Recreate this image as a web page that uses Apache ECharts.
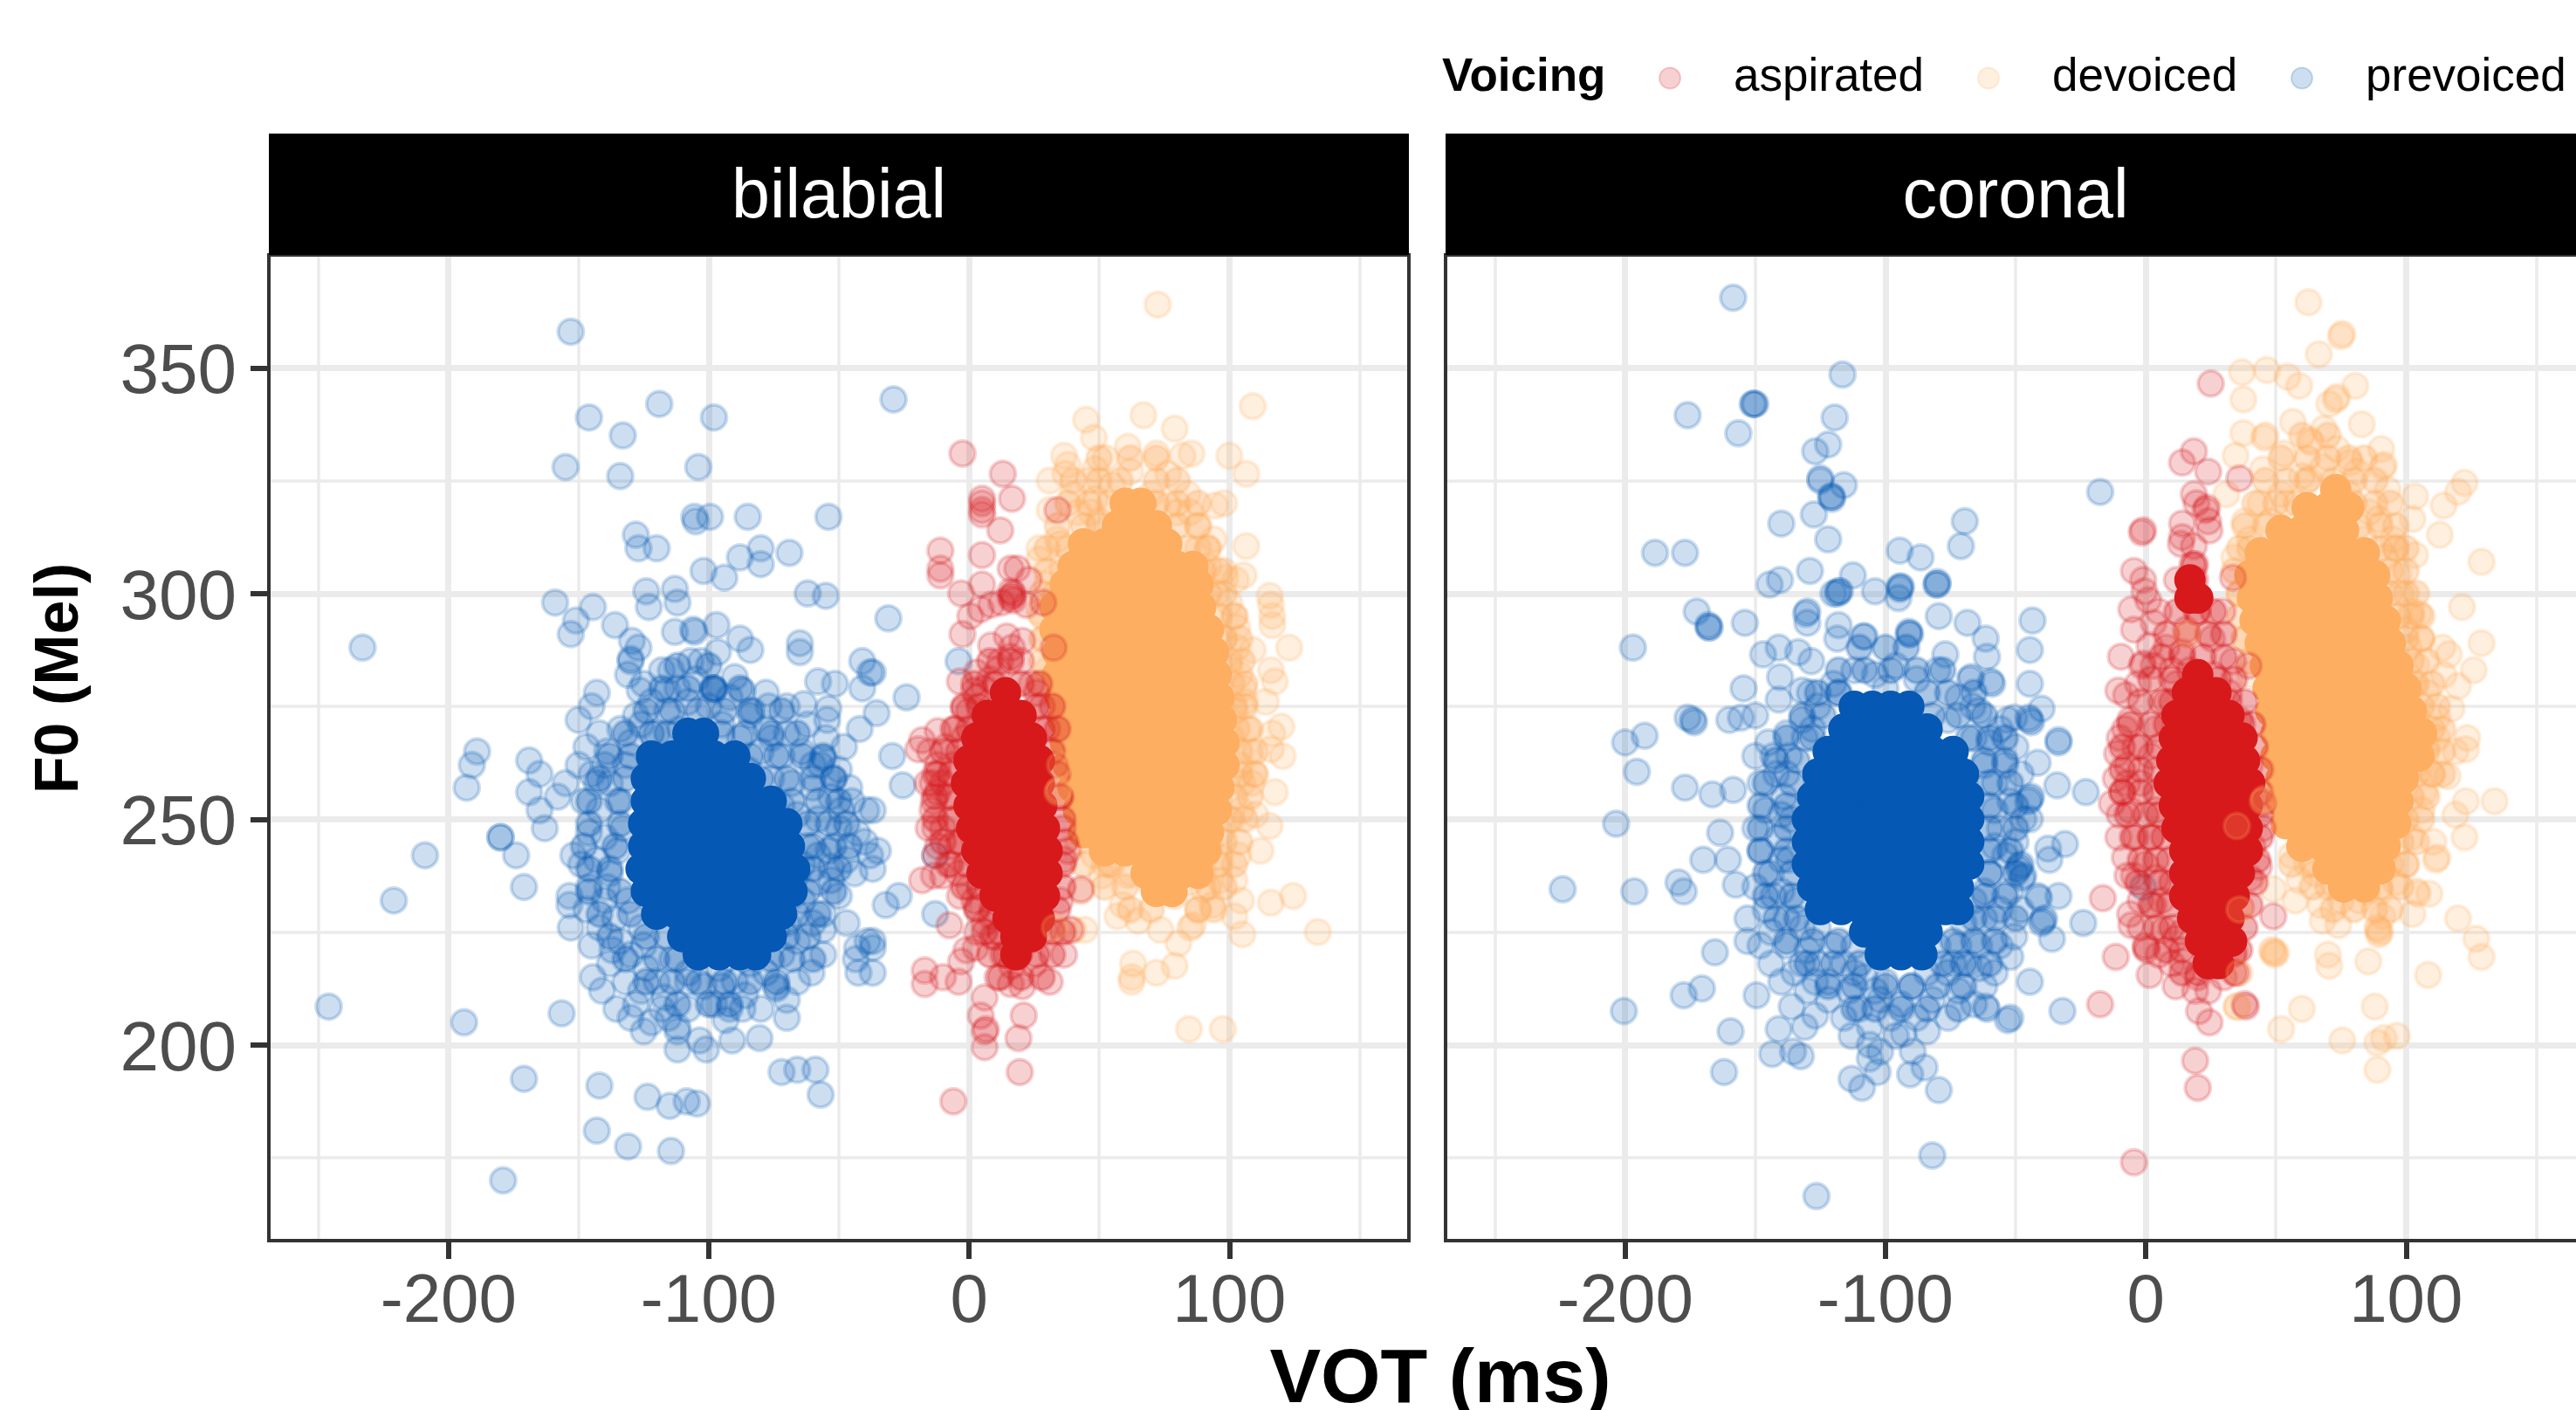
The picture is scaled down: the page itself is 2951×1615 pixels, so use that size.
<!DOCTYPE html>
<html><head><meta charset="utf-8">
<style>html,body{margin:0;padding:0;background:#fff}#c{width:2951px;height:1615px}</style>
<script src="https://cdn.jsdelivr.net/npm/echarts@6/dist/echarts.min.js"></script>
</head><body><div id="c"></div>
<script>
const panels=['bilabial','coronal'];
const voicings=['aspirated','devoiced','prevoiced'];
const xMajorTicks=[-200,-100,0,100];
const xMinorTicks=[-250,-150,-50,50,150];
const yMajorTicks=[200,250,300,350];
const yMinorTicks=[175,225,275,325];

// individually readable points: [VOT, F0]
const bilabialPrevoiced=[[-153,358],[-119,342],[-146,339],[-98,339],[-133,335],[-155,328],[-134,326],[-104,328],[-105.5,317],[-105,316],[-99.5,317],[-85,317],[-54,317],[-128,313],[-127,310],[-120,310],[-102,305],[-94,303.5],[-88,308],[-80,310],[-80,306.5],[-69,309],[-124,300.5],[-113,301],[-123,297],[-112,298],[-62,300],[-55,299.5],[-159,298],[-144.5,297],[-151,294],[-153,291],[-136,293],[-233,288],[-129.5,289.5],[-127,288],[-130,285.5],[-130,285],[-131,282],[-126.5,278.5],[-113,291.5],[-106,292],[-105.5,291.5],[-97,293],[-88,290],[-84,287.5],[-96.5,287],[-65,289],[-65,287],[-41,285],[-38,282.5],[-58,280.5],[-51.5,280],[-41,279],[-77,275],[-83,274],[-63.5,275.5],[-54,274.5],[-54.5,272],[-143,278],[-145,275],[-150,272],[-114.5,283],[-107,285],[-116,278.5],[-98,278.5],[-98,279],[-98.5,279],[-90,281.5],[-87,278.5],[-189,265],[-191,262],[-193,257],[-169,263],[-165,260],[-169,256],[-155,258],[-158,255],[-165,252],[-163,248],[-180,246],[-180,246],[-174,242],[-209,242],[-221,232],[-171,235],[-152,242],[-149,240],[-153.5,233],[-153.5,231],[-153,226],[-137,221],[-144.5,215],[-141,212],[-246,208.5],[-194,205],[-156.5,207],[-135.5,208],[-130,206],[-125,203],[-117,210.5],[-115.5,206],[-112,204],[-112,203],[-112,199],[-103.5,201],[-101,199],[-91,201],[-80.5,201.5],[-93.5,205.5],[-87,208],[-92,208],[-70,210],[-70,206],[-74,212.5],[-60.5,216],[-42.5,216],[-43.5,219],[-43,221.5],[-47,227],[-39,223],[-56,225.5],[-56,229],[-38,242],[-39.5,252],[-53,239.5],[-44,238],[-53,236.5],[-52,259],[-46,257],[-56,263.5],[-72,194],[-66,194.5],[-59,194.5],[-57,189],[-171,192.5],[-142,191],[-123.5,188.5],[-115,186.5],[-108.5,187.5],[-104.5,187],[-143,181],[-131,177.5],[-114.5,176.5],[-179,170],[-95,213],[-108,214],[-29,343],[-31,294.5],[-4,285],[-24,277],[-35.5,273.5],[-37,282.5],[-29.5,264],[-25.5,257.5],[-37,252],[-35,243],[-37,239],[-27,233],[-32,231],[-13,242],[-13,229],[-37,223],[-37,221.5],[-37,216],
[-118,283],[-112,279],[-105,281],[-122,276],[-116,274],[-108,276],[-100,275],[-92,277],[-84,273],[-95,271],[-126,271],[-134,270],[-142,269],[-147,266],[-139,265],[-130,267],[-120,269],[-88,268],[-78,270],[-70,269],[-62,271],[-55,268],[-48,266],[-42,270],[-80,265],[-72,264],[-64,265],[-57,262],[-50,261],[-85,261],[-76,259],[-68,258],[-60,257],[-53,255],[-45,254],[-132,262],[-138,258],[-145,260],[-150,262],[-135,254],[-142,252],[-148,254],[-133,248],[-140,246],[-146,247],[-72,253],[-66,251],[-58,250],[-50,248],[-43,247],[-70,246],[-62,244],[-54,243],[-47,241],[-40,245],[-66,238],[-58,236],[-50,233],[-143,241],[-138,238],[-146,235],[-140,232],[-136,228],[-147,230],[-142,226],[-134,223],[-126,226],[-130,220],[-138,218],[-124,217],[-132,214],[-126,212],[-120,214],[-114,219],[-108,216],[-102,213],[-96,217],[-90,214],[-84,218],[-78,216],[-72,220],[-66,223],[-60,227],[-70,227],[-64,232],[-56,220],[-74,213],[-86,211],[-98,209],[-108,208],[-118,208],[-128,209],[-122,205],[-80,208],[-66,214],[-145,222],[-140,262],[-125,280],[-103,285],[-78,278],[-70,275],[-60,262],[-64,240],[-75,234],[-143,258],[-128,273],[-111,270],[-76,268],[-58,242],[-49,252],[-135,243],[-139,235],[-131,232],[-125,222],[-104,220],[-82,224],[-74,226],[-68,233]];
const bilabialPrevoicedBand=[[284,-112,-100],[279,-118,-108,-98,-88],[274,-124,-114,-104,-94,-84,-72],[269,-132,-122,-116,-95,-86,-76,-66],[264,-138,-130,-84,-74,-64,-56],[259,-142,-132,-80,-70,-60,-52],[254,-146,-134,-68,-58,-50],[249,-146,-134,-62,-54,-47],[244,-148,-136,-60,-52,-46],[239,-146,-138,-60,-50],[234,-146,-134,-62,-52],[229,-142,-130,-66,-58],[224,-138,-124,-116,-70,-62],[219,-132,-120,-112,-76,-68,-60],[214,-124,-114,-104,-94,-84,-74],[209,-112,-100,-92]];
const bilabialPrevoicedCore=[[269,-108,-102],[264,-122,-114,-106,-98,-90],[259,-124,-116,-108,-100,-92,-84],[254,-124,-116,-108,-100,-92,-84,-76],[249,-125,-117,-109,-101,-93,-85,-77,-70],[244,-125,-117,-109,-101,-93,-85,-77,-69],[239,-126,-118,-110,-102,-94,-86,-78,-70,-67],[234,-124,-116,-108,-100,-92,-84,-76,-68],[229,-120,-112,-104,-96,-88,-80,-72],[224,-110,-102,-94,-86,-76],[220,-104,-96,-88,-82]];
const bilabialDevoiced=[[72.5,364],[45,338.5],[67,339.5],[109,341.5],[48,334.5],[79,336.5],[61,332.5],[72,331],[85.5,331],[82,330.5],[100,330.5],[106.5,326.5],[36.5,330.5],[38,328.5],[37,326.5],[31,325],[31,318.5],[52.5,330],[48.5,327.5],[76.5,326.5],[62,327],[84,322],[98,320],[94.5,319.5],[48.5,321],[76.5,319.5],[35,311],[27,310],[27,307.5],[106.5,310.5],[105.5,304],[102.5,303],[98.5,303.5],[115.5,299.5],[116,297.5],[116.5,295],[116.5,293],[102,295],[103,292.5],[123,288],[109,287.5],[116,283],[117.5,280.5],[105.5,279],[106,276],[114,276],[120,270.5],[116.5,269],[91.5,310],[94,312],[116,265.5],[120.5,264],[117.5,256],[109.5,260],[108.5,258],[115.5,248.5],[112,243],[104.5,252],[110,251],[103.5,242],[92.5,243.5],[96.5,241.5],[124.5,233],[116,231.5],[134,225],[104.5,232],[102,228.5],[105,224.5],[93.5,231],[88,230],[86,226.5],[80.5,222.5],[79,217.5],[85,226],[73.5,225.5],[65,227.5],[59,231],[57,228.5],[72,216],[63,218],[62.5,215],[62.5,214],[84.5,203.5],[97.5,203.5],[51,237.5],[43,234],[61,237.5],[70,235.5],[79,233],[90,234.5],[96.5,236.5],[102,236.5],[44.5,225.5],[40,225.5],
[40,322],[46,325],[55,324],[70,322],[80,318],[88,315],[92,306],[98,305],[100,298],[103,288],[104,282],[107,270],[108,265],[105,258],[101,250],[97,247],[90,238],[85,236],[75,234],[62,238],[55,240],[48,242],[42,245],[34,312],[30,302],[27,296],[42,318],[50,316],[36,300],[29,290],[30,283],[98,290],[100,284],[102,274],[104,262],[47,318],[60,318],[85,318],[88,310],[95,300],[101,268],[99,258],[52,240],[80,238],[91,242],[35,296]];
const bilabialDevoicedBand=[[330,50,62,72],[325,40,50,58,72,80],[320,38,46,54,72,80,88],[315,34,44,50,80,88],[310,30,38,84,92],[305,30,36,90,96],[300,28,33,92,98],[295,28,96,102],[290,28,98,104],[285,28,100,105],[280,28,101,106],[275,102,106],[270,103,108],[265,104,110],[260,104,110],[255,102,108],[250,100,106],[245,98,104],[240,44,54,96,102],[235,52,60,92,98],[230,62,70,88,94]];
const bilabialDevoicedCore=[[320,60,66],[315,57,65,72],[311,44,52,60,68,76],[306,40,48,56,64,72,80,86],[302,37,45,52,60,68,76,84,88],[297,33,41,49,57,65,73,81,89],[292,33,40,48,56,64,72,80,88,92],[287,34,42,50,58,66,74,82,90,94],[282,34,41,49,57,65,73,81,89,95],[277,35,43,51,59,67,75,83,91,96],[272,36,43,51,59,67,75,83,91,97],[267,37,45,53,61,69,77,85,93,98],[262,38,45,53,61,69,77,85,93,98],[257,40,48,56,64,72,80,88,96],[252,42,50,58,66,74,82,90,95],[247,44,52,60,68,76,84,92],[243,52,60,68,76,84,91],[238,68,75,82,88],[234,72,78]];
const bilabialAspirated=[[-2.5,331],[13,326.5],[16.5,321],[5,321],[5,320],[5,318.5],[5,317.5],[12,314],[34,318.5],[-11,309.5],[5,308.5],[-11,305.5],[-11,304],[-3,300],[5,302],[16,305.5],[18.5,305.5],[23,303],[16.5,299.5],[17,300],[16,299],[17,298.5],[16,300.5],[12.5,298],[8.5,297.5],[4.5,296.5],[0.5,295],[22,297.5],[28.5,298],[-2.5,291],[8.5,288.5],[16.5,288],[14.5,290.5],[-3.5,280.5],[3,282.5],[-2,274.5],[2,278.5],[-12,269.5],[-18,267.5],[20.5,289.5],[32.5,288],[26,278],[-19.5,265.5],[-13,260],[-13.5,254],[-14,258],[-15.5,248],[-18,236.5],[-13.5,237.5],[-10,237.5],[-13,242],[-7.5,226.5],[-3.5,233],[3,230.5],[8.5,228.5],[2.5,221.5],[-1,221],[9,224],[-3,218.5],[-4,214],[-10,215],[-17,216.5],[-17,213.5],[11,215],[16,213.5],[20.5,213],[31,214],[19,220],[19.5,220.5],[18.5,219.5],[25,218],[16.5,217.5],[36.5,220],[39,225.5],[29,225.5],[35,232],[43,234.5],[36.5,241],[6,210.5],[4.5,206.5],[6,203],[6.5,203.5],[6,199.5],[21,206.5],[19,201.5],[19.5,194],[-6,187.5],
[-15,265],[-12,262],[-9,266],[-5,270],[0,274],[-14,252],[-10,248],[-12,244],[-8,240],[-4,238],[0,235],[-16,258],[-8,255],[-6,262],[-10,258],[-3,245],[-5,250],[3,277],[8,281],[12,285],[16,286],[20,285],[24,280],[28,275],[30,270],[33,262],[35,255],[36,248],[38,243],[2,232],[6,227],[10,224],[13,220],[3,225],[-13,248],[-7,244],[-12,256],[-2,268],[6,279],[11,283]];
const bilabialAspiratedBand=[[285,8,16],[280,2,10,20,27],[275,-2,4,26,32],[270,-6,0,28,34],[265,-10,-4,32],[260,-12,-7,34],[255,-13,-7,35],[250,-13,-7,36],[245,-10,-4,37],[240,-7,-1,36],[235,-2,4,36],[230,3,9,34],[225,6,12,32,36],[220,8,14,26,32],[215,12,20,28]];
const bilabialAspiratedCore=[[278,14],[273,7,14,20],[268,3,10,17,24],[263,0,7,14,21,27],[258,-1,6,13,20,27],[253,0,7,14,21,28],[248,1,8,15,22,29],[243,3,10,17,24,30],[238,5,12,19,26,30],[233,10,17,24,29],[228,15,22,27],[224,18,24],[220,18]];
const bilabialDevoicedOver=[[34,256],[34.5,256.5],[35,262],[33,226]];

const coronalPrevoiced=[[-158.5,365.5],[-116.5,348.5],[-176,339.5],[-151,342],[-150.5,342],[-150,342],[-156.5,335.5],[-119.5,339],[-122,333],[-127,331.5],[-125,325.5],[-125,325],[-116,324],[-120.5,321.5],[-121,321.5],[-120.5,321],[-127.5,317.5],[-140,315.5],[-122,312],[-69.5,316],[-71,310.5],[-188.5,309],[-177,309],[-129,305],[-94.5,309.5],[-86.5,308],[-112.5,304],[-140.5,303],[-144.5,302],[-118,300.5],[-118.5,300],[-117.5,300.5],[-120,300],[-104,300.5],[-94.5,301.5],[-94,301.5],[-94.5,301],[-95,299],[-80.5,302],[-80,302.5],[-80,302],[-172.5,296],[-168,293],[-167.5,292.5],[-168,292.5],[-154,293.5],[-130,296],[-130.5,295.5],[-130,293.5],[-197,288],[-118,293],[-118.5,290],[-108.5,290.5],[-108,290.5],[-91,291.5],[-90.5,291],[-91,291],[-79.5,295],[-68.5,293.5],[-61.5,290],[-61,286],[-77,286.5],[-147,286.5],[-141,288],[-133.5,287],[-128.5,285],[-154.5,279],[-140.5,281.5],[-141,276.5],[-132,278.5],[-129,278],[-67,281.5],[-67.5,281],[-59.5,280.5],[-59,280],[-66.5,275],[-53,272],[-176,272.5],[-174,272],[-173.5,271.5],[-160,272],[-155.5,272.5],[-150,273],[-200,267],[-192.5,268.5],[-195.5,260.5],[-177,257],[-166.5,255.5],[-158.5,256.5],[-203.5,249],[-163.5,247],[-170,241],[-160.5,241],[-224,234.5],[-196.5,234],[-179.5,236],[-177.5,234],[-157.5,235.5],[-153,228],[-153,223],[-165.5,220.5],[-170.5,212.5],[-177.5,211],[-149.5,211],[-200.5,207.5],[-159.5,203],[-136,208.5],[-141,203.5],[-131,204],[-127,206.5],[-143.5,198],[-135.5,198.5],[-132.5,197.5],[-162,194],[-113,192.5],[-109,190.5],[-106,197],[-103,194],[-102,198.5],[-90.5,193.5],[-85,195],[-89.5,198.5],[-79.5,190],[-82,175.5],[-126.5,166.5],[-61.5,208.5],[-61,208],[-53,205.5],[-113,202],[-93,202.5],[-17.5,322.5],[-43.5,294],[-44.5,287.5],[-44.5,280],[-40,274.5],[-44.5,272],[-44,271.5],[-45,272.5],[-50.5,272.5],[-33.5,267.5],[-33.5,267],[-41.5,262.5],[-34,257.5],[-23,256],[-44.5,254.5],[-44,255],[-45,254],[-44.5,250],[-31,244.5],[-37.5,243.5],[-37,241],[-48.5,239.5],[-49,239],[-48,240],[-47,237.5],[-47.5,237],[-33.5,233],[-41,232.5],[-41.5,233],[-24,227],[-39.5,227.5],[-39,228],[-40,227],[-36,223.5],[-50.5,224],[-52,219.5],[-44.5,214],[-32,207.5],[-52,206],[-1,235],
[-112,283],[-104,282],[-96,284],[-88,281],[-80,283],[-120,280],[-126,275],[-72,277],[-64,274],[-132,272],[-138,269],[-145,267],[-150,264],[-56,270],[-50,266],[-60,267],[-54,262],[-48,260],[-58,258],[-52,254],[-47,250],[-56,248],[-50,245],[-54,242],[-60,238],[-52,234],[-56,230],[-62,234],[-48,230],[-137,264],[-142,260],[-148,258],[-139,255],[-146,252],[-150,248],[-136,250],[-141,246],[-148,243],[-137,241],[-144,238],[-150,235],[-140,234],[-134,232],[-146,230],[-138,228],[-144,225],[-132,226],[-138,222],[-144,218],[-130,221],[-135,216],[-126,218],[-130,212],[-122,214],[-116,218],[-122,210],[-114,212],[-108,215],[-116,206],[-110,208],[-102,210],[-106,204],[-98,206],[-94,209],[-88,206],[-100,214],[-90,213],[-82,210],[-76,206],[-72,212],[-84,216],[-76,216],[-68,218],[-62,213],[-58,216],[-72,222],[-64,222],[-56,222],[-70,227],[-62,228],[-132,218],[-140,214],[-127,214],[-96,202],[-84,203],[-106,200],[-104,212],[-66,209],[-148,222],[-143,233],[-140,241],[-138,260],[-131,268],[-118,278],[-100,279],[-76,272],[-66,268],[-62,262],[-58,252],[-58,244],[-66,232],[-64,217],[-120,222],[-112,222],[-126,226],[-128,270],[-140,251],[-143,264],[-112,216],[-80,222],[-74,218]];
const coronalPrevoicedBand=[[288,-110,-100,-92],[283,-118,-108,-98,-88,-78],[278,-126,-118,-84,-76,-66],[273,-132,-124,-82,-72,-62],[268,-138,-128,-68,-60,-54],[263,-142,-134,-62,-54],[258,-146,-136,-60,-52],[253,-148,-138,-60,-50],[248,-148,-138,-60,-50],[243,-148,-138,-60,-52],[238,-146,-136,-60,-50],[233,-146,-136,-62,-54],[228,-142,-134,-66,-58,-50],[223,-138,-128,-118,-74,-66,-58],[218,-130,-120,-110,-78,-70,-60],[213,-122,-112,-100,-90,-80,-70],[208,-112,-104,-94,-84,-72]];
const coronalPrevoicedCore=[[275,-112,-105,-98,-91],[270,-116,-108,-100,-92,-84],[265,-122,-114,-106,-98,-90,-82,-74],[260,-126,-118,-110,-102,-94,-86,-78,-70],[255,-128,-120,-112,-104,-96,-88,-80,-72,-68],[250,-130,-122,-114,-106,-98,-90,-82,-74,-68],[245,-130,-123,-115,-107,-99,-91,-83,-75,-68],[240,-130,-122,-114,-106,-98,-90,-82,-74,-68],[235,-128,-120,-112,-104,-96,-88,-80,-72],[230,-125,-117,-109,-101,-93,-85,-77,-72],[225,-108,-100,-92,-84],[220,-102,-94,-86]];
const coronalDevoiced=[[62.5,364.5],[75.5,357.5],[75,357],[66.5,353],[37,349],[46.5,349.5],[54.5,348],[59,346],[37.5,343],[80.5,346],[73.5,343.5],[70.5,342],[73,343],[83,337.5],[56.5,338],[37.5,335.5],[45.5,334.5],[46,335],[34.5,330.5],[63,334],[63.5,333.5],[73.5,332],[68.5,336.5],[90.5,332],[91.5,328.5],[91,328],[93,323],[103.5,321.5],[122.5,324.5],[120,322.5],[114.5,319.5],[102.5,316.5],[113,313],[129,307],[121.5,297],[129,289],[103.5,308.5],[102,296],[105,295.5],[106,290],[114,288],[116.5,286.5],[126,283],[114.5,282],[120,279.5],[117.5,274.5],[112,272.5],[123.5,268],[63,325.5],[53,331],[81,327],[78.5,329],[45,327.5],[38,316],[31,322],[89.5,316.5],[95,312],[123,265.5],[119,265],[134,254],[123,254],[119,251],[116,259.5],[122.5,246],[110.5,245],[112,241.5],[111.5,241],[104,234],[104.5,233.5],[109,233.5],[102.5,229],[120,228],[127,223.5],[129,219.5],[108.5,215.5],[91,228.5],[89.5,225.5],[90,225],[89,226],[89.5,224.5],[85.5,218.5],[70,220],[70.5,217.5],[74,226.5],[68,227.5],[49,220.5],[49.5,220],[48.5,221],[50,220.5],[60,208],[52,203.5],[88,208.5],[75.5,201],[89,200.5],[91.5,201.5],[96.5,202],[89,194.5],[35,208.5],[57.5,232],[67,231],[49,234.5],[59,236.5],
[44,320],[52,322],[60,326],[68,328],[78,322],[86,318],[92,308],[98,300],[100,292],[104,284],[108,278],[112,268],[110,260],[106,252],[102,246],[100,240],[96,236],[90,234],[82,232],[72,236],[62,240],[56,242],[34,308],[36,300],[38,290],[40,282],[97,304],[101,288],[103,280],[108,266],[107,256],[54,320],[84,312],[40,312],[48,316],[65,238],[75,232],[85,234],[104,262],[104,272],[96,310]];
const coronalDevoicedBand=[[335,60,70],[330,52,62,70,78,84],[325,46,54,62,72,80,88],[320,42,50,58,80,88,94],[315,38,46,82,90,96],[310,36,40,90,96,100],[305,34,94,100],[300,36,94,100,104],[295,36,97,102,106],[290,38,100,106],[285,40,102,108],[280,104,110],[275,106,112],[270,110,114],[265,108,114],[260,104,110,114],[255,102,108],[250,100,106],[245,98,104],[240,56,64,94,100],[235,64,70,90,98],[230,72,80,88,94]];
const coronalDevoicedCore=[[323,73],[319,62,70,78],[314,52,60,68,76],[309,44,52,60,68,76,84],[304,40,48,56,64,72,80,88],[299,41,49,57,65,73,81,89],[294,42,50,58,66,74,82,90,92],[289,44,52,60,68,76,84,92,94],[284,46,54,62,70,78,86,94,97],[279,47,55,63,71,79,87,95,100],[274,48,56,64,72,80,88,96,102],[269,50,58,66,74,82,90,98,106],[264,50,58,66,74,82,90,98,105],[259,52,60,68,76,84,92,99],[254,52,60,68,76,84,92,97],[249,54,62,70,78,86,94,96],[244,60,68,76,84,92],[239,70,78,86,90],[235,76,84]];
const coronalAspirated=[[25,346.5],[18.5,331.5],[14,329],[24,327],[36,325.5],[18.5,322],[19.5,320],[23,318.5],[23.5,319],[24,316],[24.5,314],[-1.5,313.5],[-1,314],[14,315.5],[14,312.5],[13.5,311],[18.5,310.5],[-4.5,305],[-1,303],[-0.5,300.5],[1,298.5],[12,303],[18,306.5],[18.5,306],[19,306.5],[18,303],[19,303],[18,299.5],[19,299.5],[19.5,296],[-5.5,296.5],[5,296],[-4.5,292],[3,293.5],[1.5,288.5],[-9.5,286],[-1.5,284],[-1,284.5],[-10.5,278.5],[-7.5,277.5],[-8,270],[33.5,303.5],[29.5,296],[15.5,292],[25.5,290],[39.5,284],[33.5,285],[-11,264.5],[-11.5,259],[-13,253.5],[-10.5,246],[-8,241.5],[-7,237.5],[-4.5,237.5],[-16.5,232.5],[-6,229],[-5.5,226.5],[3,231],[7,225.5],[0,221.5],[0.5,221],[0,222],[1.5,215.5],[-11.5,219.5],[-17.5,209],[11.5,213],[19,212],[20.5,207.5],[24.5,205],[38.5,208.5],[38,209],[35,216],[33.5,220],[34,220.5],[49,228.5],[36.5,230.5],[45,254],[45,253.5],[35,248.5],[45,248],[43.5,239.5],[19,196.5],[20,190.5],[-4.5,174],[11.5,223.5],[14,218.5],
[-6,272],[-3,280],[3,284],[8,288],[12,280],[-10,268],[-7,262],[-4,266],[-9,256],[-6,252],[-10,251],[-4,246],[-2,258],[2,264],[4,270],[4,252],[2,246],[0,240],[4,237],[6,232],[-2,232],[8,276],[10,283],[14,287],[17,283],[26,282],[32,278],[36,272],[40,262],[42,255],[41,244],[40,237],[5,220],[10,218],[30,215],[20,215],[24,212],[-2,226],[14,225],[-7,258]];
const coronalAspiratedBand=[[296,12,20,26],[291,8,16,24,30],[286,6,14,22,30],[281,2,10,28,34],[276,-2,6,10,32,38],[271,-6,2,8,37,41],[266,-9,-2,5,42],[261,-9,-2,4,44],[256,-9,-2,4,44],[251,-7,0,5,44],[246,-5,2,7,44],[241,-2,4,9,43],[236,-3,5,10,42],[231,2,9,40],[226,4,10,38],[221,8,14,36],[216,14,20,34]];
const coronalAspiratedCore=[[303,17],[299,17,20],[282,20],[278,16,22,27],[273,12,19,26,32],[268,11,18,25,32,37],[263,10,17,24,31,38],[258,9,16,23,30,37,40],[253,11,18,25,32,39],[248,12,19,26,33,39],[243,15,22,29,36,39],[238,15,22,29,36],[233,15,22,29,34],[228,18,25,32],[223,21,28,33],[218,24,28]];
const coronalDevoicedOver=[[45,254],[45.5,254.5],[35,248.5],[36,230],[36,216],[35,208.5],[16,291]];

const RED='#D7191C',ORANGE='#FDAE61',BLUE='#0558B3';
const rgba=(h,a)=>`rgba(${parseInt(h.slice(1,3),16)},${parseInt(h.slice(3,5),16)},${parseInt(h.slice(5,7),16)},${a})`;
const unrow=rows=>rows.flatMap(([y,...xs])=>xs.map(x=>[x,y]));
const SIZE=29;
function mk(name,col,data,i,fill,stroke,bw){return {type:'scatter',name,xAxisIndex:i,yAxisIndex:i,data,symbolSize:SIZE,silent:true,animation:false,
  itemStyle:{color:rgba(col,fill),borderColor:rgba(col,stroke),borderWidth:bw,opacity:1}};}
const rings=(name,col,data,i)=>mk(name,col,data,i,0.2,0.2,4);
const band=(name,col,rows,i)=>mk(name,col,unrow(rows),i,0.34,0.22,4);
const core=(name,col,rows,i)=>mk(name,col,unrow(rows),i,1,1,7);

const L=308,W=1306,T=292,H=1129,RX=1656;
const series=[
 rings('prevoiced',BLUE,bilabialPrevoiced,0),band('prevoiced',BLUE,bilabialPrevoicedBand,0),core('prevoiced',BLUE,bilabialPrevoicedCore,0),
 rings('devoiced',ORANGE,bilabialDevoiced,0),band('devoiced',ORANGE,bilabialDevoicedBand,0),core('devoiced',ORANGE,bilabialDevoicedCore,0),
 rings('aspirated',RED,bilabialAspirated,0),band('aspirated',RED,bilabialAspiratedBand,0),core('aspirated',RED,bilabialAspiratedCore,0),
 rings('devoiced',ORANGE,bilabialDevoicedOver,0),
 rings('prevoiced',BLUE,coronalPrevoiced,1),band('prevoiced',BLUE,coronalPrevoicedBand,1),core('prevoiced',BLUE,coronalPrevoicedCore,1),
 rings('devoiced',ORANGE,coronalDevoiced,1),band('devoiced',ORANGE,coronalDevoicedBand,1),core('devoiced',ORANGE,coronalDevoicedCore,1),
 rings('aspirated',RED,coronalAspirated,1),band('aspirated',RED,coronalAspiratedBand,1),core('aspirated',RED,coronalAspiratedCore,1),
 rings('devoiced',ORANGE,coronalDevoicedOver,1)
];
const FONT='"Liberation Sans"';
const grid=[{left:L,top:T,width:W,height:H,outerBoundsMode:'none'},{left:RX,top:T,width:W,height:H,outerBoundsMode:'none'}];
const XMIN=-269,XMAX=169,YMIN=156.65,YMAX=375;
const gridLine=w=>({show:true,lineStyle:{color:'#EBEBEB',width:w}});
const xAxis=[0,1].map(i=>({type:'value',gridIndex:i,min:XMIN,max:XMAX,position:'bottom',axisLine:{show:false,onZero:false},
   axisTick:{show:true,length:21,customValues:xMajorTicks,lineStyle:{color:'#333',width:6}},
   axisLabel:{show:true,customValues:xMajorTicks,margin:32,fontFamily:FONT,fontSize:78,color:'#4D4D4D',formatter:v=>String(v)},
   splitLine:gridLine(7)})).concat([0,1].map(i=>({type:'value',gridIndex:i,min:XMIN,max:XMAX,position:'bottom',axisLine:{show:false,onZero:false},
   axisTick:{show:false,customValues:xMinorTicks},axisLabel:{show:false,customValues:xMinorTicks},splitLine:gridLine(3.5)})));
const yAxis=[0,1].map(i=>({type:'value',gridIndex:i,min:YMIN,max:YMAX,position:'left',axisLine:{show:false,onZero:false},
   axisTick:{show:i===0,length:21,customValues:yMajorTicks,lineStyle:{color:'#333',width:6}},
   axisLabel:{show:i===0,customValues:yMajorTicks,margin:37,fontFamily:FONT,fontSize:80,color:'#4D4D4D',verticalAlign:'top',lineHeight:80,padding:[-33,0,0,0]},
   splitLine:gridLine(7)})).concat([0,1].map(i=>({type:'value',gridIndex:i,min:YMIN,max:YMAX,position:'left',axisLine:{show:false,onZero:false},
   axisTick:{show:false,customValues:yMinorTicks},axisLabel:{show:false,customValues:yMinorTicks},splitLine:gridLine(3.5)})));
const strip=(x,w,label)=>[
 {type:'rect',z:50,shape:{x,y:153,width:w,height:139},style:{fill:'#000'},silent:true},
 {type:'text',z:51,style:{text:label,x:x+w/2,y:227,fill:'#fff',font:`79px ${FONT}`,textAlign:'center',textVerticalAlign:'middle'},silent:true}];
const border=x=>({type:'rect',z:40,shape:{x,y:T,width:W,height:H},style:{fill:'none',stroke:'#333',lineWidth:4},silent:true});
const legendAt=(name,left)=>({data:[name],left,top:58,itemWidth:136,itemHeight:24,selectedMode:false,textStyle:{fontFamily:FONT,fontSize:53,color:'#000'}});
const option={animation:false,backgroundColor:'#fff',grid,xAxis,yAxis,series,
 legend:[legendAt(voicings[0],1895),legendAt(voicings[1],2260),legendAt(voicings[2],2619)],
 graphic:[
  ...strip(L,W,panels[0]),...strip(RX,W,panels[1]),border(L),border(RX),
  {type:'text',z:51,style:{text:'Voicing',x:1652,y:89,fill:'#000',font:`bold 53px ${FONT}`,textVerticalAlign:'middle'},silent:true},
  {type:'text',z:51,style:{text:'VOT (ms)',x:1650,y:1582,fill:'#000',font:`bold 88px ${FONT}`,textAlign:'center',textVerticalAlign:'middle'},silent:true},
  {type:'text',z:51,rotation:Math.PI/2,x:70,y:777,style:{text:'F0 (Mel)',x:0,y:0,fill:'#000',font:`bold 70px ${FONT}`,textAlign:'center',textVerticalAlign:'middle'},silent:true}
 ]};
echarts.init(document.getElementById('c'),null,{renderer:'canvas'}).setOption(option);
</script></body></html>
